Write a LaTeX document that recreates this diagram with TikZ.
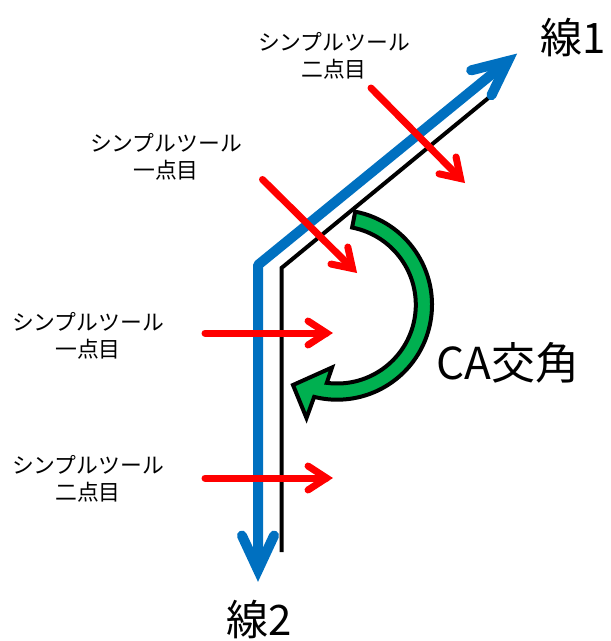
\documentclass[tikz,border=0pt]{standalone}
\usepackage{fontspec}
\newfontfamily\jp{Noto Sans CJK JP}
\usetikzlibrary{calc}
\definecolor{lineblue}{RGB}{0,112,192}
\definecolor{arrred}{RGB}{255,0,0}
\definecolor{arcgreen}{RGB}{0,176,80}
\begin{document}
\begin{tikzpicture}[x=1pt,y=-1pt,
  blackline/.style={draw=black, line width=4pt, line join=miter},
  blueshaft/.style={draw=lineblue, line width=10pt, line join=bevel, line cap=round},
  bluehead/.style={draw=lineblue, line width=10pt, line join=miter, line cap=round},
  redarrow/.style={draw=arrred, line width=7pt, line join=miter, line cap=round},
  lbl/.style={font=\jp\fontsize{21.8}{27}\selectfont, align=center, inner sep=0pt},
  big/.style={font=\jp\fontsize{42}{48}\selectfont, inner sep=0pt}]
\useasboundingbox (0,0) rectangle (611,641);

% black line
\coordinate (kb) at (281.5,552);
\coordinate (kc) at (281.5,268);
\coordinate (kt) at (492,95);
\draw[blackline] (kb) -- (kc) -- (kt);

% blue line with arrow heads
\coordinate (bb) at (258,570);
\coordinate (bc) at (258,265);
\coordinate (bt) at (508,61);
\draw[blueshaft] (bb) -- (bc) -- (bt);
\draw[bluehead] ($(bt)!38pt!25:(bc)$) -- (bt) -- ($(bt)!38pt!-25:(bc)$);
\draw[bluehead] ($(bb)!38pt!25:(bc)$) -- (bb) -- ($(bb)!38pt!-25:(bc)$);

% green curved arrow
\coordinate (gc) at (337.1,304.8);
\coordinate (gl) at (306.5,418);
\coordinate (gtip) at (293,385);
\coordinate (gu) at (332,367.5);
\filldraw[draw=black, fill=arcgreen, line width=4pt, line join=miter]
  ($(gc)+(-79:94.9)$) arc[start angle=-79, end angle=104, radius=94.9]
  -- (gl) -- (gtip) -- (gu)
  -- ($(gc)+(97.5:78.7)$) arc[start angle=97.5, end angle=-79, radius=78.7]
  -- cycle;

% red arrows
\coordinate (r1s) at (371,88);
\coordinate (r1t) at (460.5,178.5);
\coordinate (r2s) at (262.5,179.5);
\coordinate (r2t) at (352.5,268.5);
\coordinate (r3s) at (205,333);
\coordinate (r3t) at (326.5,333);
\coordinate (r4s) at (205,478);
\coordinate (r4t) at (326.5,478);
\foreach \s/\t in {r1s/r1t, r2s/r2t, r3s/r3t, r4s/r4t}{
  \draw[redarrow] (\s) -- (\t);
  \draw[redarrow] ($(\t)!22pt!33:(\s)$) -- (\t) -- ($(\t)!22pt!-33:(\s)$);
}

% labels
\node[lbl] (t1) at (334,56) {シンプルツール\\二点目};
\node[lbl] (t2) at (166,157) {シンプルツール\\一点目};
\node[lbl] (t3) at (88,336) {シンプルツール\\一点目};
\node[lbl] (t4) at (88,479) {シンプルツール\\二点目};
\node[big, font=\jp\fontsize{44}{50}\selectfont] (ca) at (508,363) {CA交角};
\node[big] (l1) at (573,38) {線1};
\node[big] (l2) at (259,620) {線2};
\end{tikzpicture}
\end{document}
